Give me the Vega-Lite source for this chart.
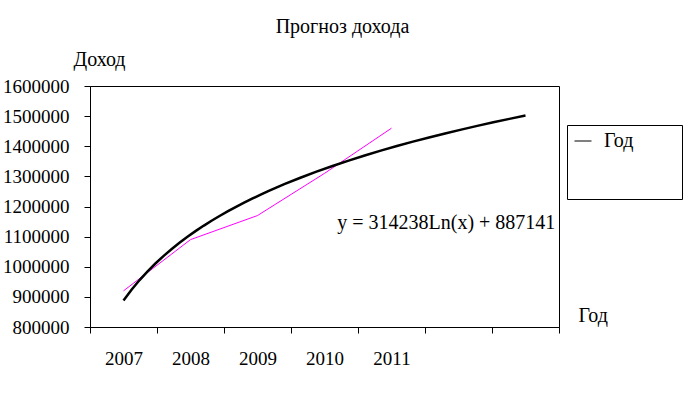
{
  "$schema": "https://vega.github.io/schema/vega-lite/v6.json",
  "autosize": "none",
  "width": 469,
  "height": 241,
  "padding": {"left": 90, "top": 86, "right": 124, "bottom": 71},
  "background": "white",
  "title": {
    "text": "Прогноз дохода",
    "fontSize": 20,
    "fontWeight": "normal",
    "color": "black",
    "anchor": "middle",
    "dx": 18,
    "offset": 12
  },
  "data": {
    "values": [
      {"year": "2007", "t": 1, "v": 920000},
      {"year": "2008", "t": 2, "v": 1090000},
      {"year": "2009", "t": 3, "v": 1170000},
      {"year": "2010", "t": 4, "v": 1310000},
      {"year": "2011", "t": 5, "v": 1460000}
    ]
  },
  "layer": [
    {
      "mark": {"type": "line", "color": "#FF00FF", "strokeWidth": 1},
      "encoding": {
        "x": {
          "field": "t", "type": "quantitative",
          "scale": {"domain": [0.5, 7.5], "nice": false, "zero": false},
          "axis": {
            "title": "Год", "titleAngle": 0, "titleAlign": "left", "titleBaseline": "middle",
            "titleX": 488, "titleY": -12, "titleFontSize": 20, "titleFontWeight": "normal", "titleColor": "black",
            "values": [0.5, 1, 1.5, 2, 2.5, 3, 3.5, 4, 4.5, 5, 5.5, 6, 6.5, 7, 7.5],
            "labelExpr": "(datum.value % 1 === 0 && datum.value <= 5) ? '' + (2006 + datum.value) : ''",
            "tickOpacity": {"condition": {"test": "datum.value % 1 === 0", "value": 0}, "value": 1},
            "labelFontSize": 19, "labelColor": "black", "labelPadding": 16, "labelFlush": false, "labelOverlap": false,
            "tickSize": 6, "tickColor": "black", "domainColor": "black", "grid": false
          }
        },
        "y": {
          "field": "v", "type": "quantitative",
          "scale": {"domain": [800000, 1600000], "nice": false, "zero": false},
          "axis": {
            "title": "Доход", "titleAngle": 0, "titleAlign": "left", "titleBaseline": "alphabetic",
            "titleX": -17, "titleY": -21, "titleFontSize": 20, "titleFontWeight": "normal", "titleColor": "black",
            "values": [800000, 900000, 1000000, 1100000, 1200000, 1300000, 1400000, 1500000, 1600000],
            "format": "d", "labelFontSize": 19, "labelColor": "black", "labelPadding": 15, "labelOverlap": false,
            "tickSize": 6, "tickColor": "black", "domainColor": "black", "grid": false
          }
        }
      }
    },
    {
      "transform": [
        {"regression": "v", "on": "t", "method": "log", "extent": [1, 7]}
      ],
      "mark": {"type": "line", "strokeWidth": 2.5},
      "encoding": {
        "x": {
          "field": "t", "type": "quantitative",
          "scale": {"domain": [0.5, 7.5], "nice": false, "zero": false},
          "axis": {
            "title": "Год", "titleAngle": 0, "titleAlign": "left", "titleBaseline": "middle",
            "titleX": 488, "titleY": -12, "titleFontSize": 20, "titleFontWeight": "normal", "titleColor": "black",
            "values": [0.5, 1, 1.5, 2, 2.5, 3, 3.5, 4, 4.5, 5, 5.5, 6, 6.5, 7, 7.5],
            "labelExpr": "(datum.value % 1 === 0 && datum.value <= 5) ? '' + (2006 + datum.value) : ''",
            "tickOpacity": {"condition": {"test": "datum.value % 1 === 0", "value": 0}, "value": 1},
            "labelFontSize": 19, "labelColor": "black", "labelPadding": 16, "labelFlush": false, "labelOverlap": false,
            "tickSize": 6, "tickColor": "black", "domainColor": "black", "grid": false
          }
        },
        "y": {
          "field": "v", "type": "quantitative",
          "scale": {"domain": [800000, 1600000], "nice": false, "zero": false},
          "axis": {
            "title": "Доход", "titleAngle": 0, "titleAlign": "left", "titleBaseline": "alphabetic",
            "titleX": -17, "titleY": -21, "titleFontSize": 20, "titleFontWeight": "normal", "titleColor": "black",
            "values": [800000, 900000, 1000000, 1100000, 1200000, 1300000, 1400000, 1500000, 1600000],
            "format": "d", "labelFontSize": 19, "labelColor": "black", "labelPadding": 15, "labelOverlap": false,
            "tickSize": 6, "tickColor": "black", "domainColor": "black", "grid": false
          }
        },
        "color": {
          "datum": "Год",
          "scale": {"range": ["black"]},
          "legend": {
            "orient": "none",
            "legendX": 477,
            "legendY": 39,
            "title": "ММММММММММММММММММММММ",
            "titleLimit": 110,
            "titleColor": "rgba(0,0,0,0)",
            "titleOrient": "bottom",
            "titlePadding": 24,
            "titleFontSize": 18,
            "strokeColor": "black",
            "fillColor": "white",
            "padding": 6,
            "symbolType": "stroke",
            "symbolSize": 289,
            "symbolStrokeWidth": 1,
            "labelFontSize": 20,
            "labelColor": "black",
            "labelOffset": 11,
            "encode": {"symbols": {"update": {"stroke": {"value": "#000080"}, "strokeWidth": {"value": 1}}}}
          }
        }
      }
    },
    {
      "data": {"values": [{"eq": "y = 314238Ln(x) + 887141"}]},
      "mark": {"type": "text", "align": "left", "baseline": "middle", "fontSize": 20, "color": "black"},
      "encoding": {
        "x": {
          "datum": 4.19, "type": "quantitative",
          "scale": {"domain": [0.5, 7.5], "nice": false, "zero": false},
          "axis": {
            "title": "Год", "titleAngle": 0, "titleAlign": "left", "titleBaseline": "middle",
            "titleX": 488, "titleY": -12, "titleFontSize": 20, "titleFontWeight": "normal", "titleColor": "black",
            "values": [0.5, 1, 1.5, 2, 2.5, 3, 3.5, 4, 4.5, 5, 5.5, 6, 6.5, 7, 7.5],
            "labelExpr": "(datum.value % 1 === 0 && datum.value <= 5) ? '' + (2006 + datum.value) : ''",
            "tickOpacity": {"condition": {"test": "datum.value % 1 === 0", "value": 0}, "value": 1},
            "labelFontSize": 19, "labelColor": "black", "labelPadding": 16, "labelFlush": false, "labelOverlap": false,
            "tickSize": 6, "tickColor": "black", "domainColor": "black", "grid": false
          }
        },
        "y": {
          "datum": 1145000, "type": "quantitative",
          "scale": {"domain": [800000, 1600000], "nice": false, "zero": false},
          "axis": {
            "title": "Доход", "titleAngle": 0, "titleAlign": "left", "titleBaseline": "alphabetic",
            "titleX": -17, "titleY": -21, "titleFontSize": 20, "titleFontWeight": "normal", "titleColor": "black",
            "values": [800000, 900000, 1000000, 1100000, 1200000, 1300000, 1400000, 1500000, 1600000],
            "format": "d", "labelFontSize": 19, "labelColor": "black", "labelPadding": 15, "labelOverlap": false,
            "tickSize": 6, "tickColor": "black", "domainColor": "black", "grid": false
          }
        },
        "text": {"field": "eq"}
      }
    }
  ],
  "config": {
    "font": "Liberation Serif",
    "view": {"stroke": "black", "strokeWidth": 1, "fill": "white"}
  }
}
